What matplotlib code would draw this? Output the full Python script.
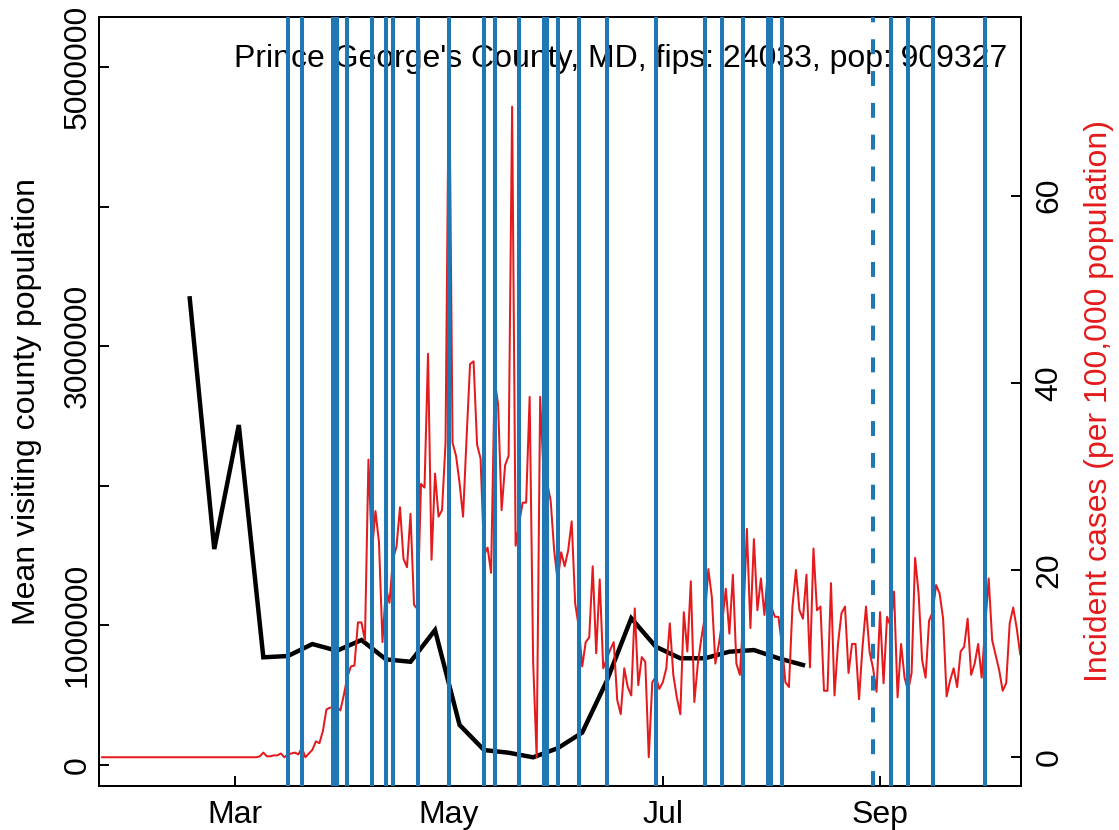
import matplotlib
matplotlib.use("Agg")
import matplotlib.pyplot as plt
import pandas as pd

plt.rcParams['font.family'] = ['Liberation Sans', 'DejaVu Sans']

# ---------------- data ----------------
title_text = "Prince George's County, MD, fips: 24033, pop: 909327"

# weekly mean visiting county population
visit_start = "2020-02-17"
visit_values = [3343000, 1546000, 2435000, 770000, 779000, 865000, 817000,
                894000, 755000, 738000, 965000, 285000, 105000, 86000,
                53000, 118000, 230000, 600000, 1050000, 846000, 763000,
                763000, 810000, 822000, 763000, 715000]

# daily incident cases per 100,000 population
case_start = "2020-01-23"
case_values = [
    0, 0, 0, 0, 0, 0, 0, 0, 0, 0, 0, 0, 0, 0, 0, 0, 0, 0, 0, 0,
    0, 0, 0, 0, 0, 0, 0, 0, 0, 0, 0, 0, 0, 0, 0, 0, 0, 0, 0, 0,
    0, 0, 0, 0, 0,
    0.1, 0.5, 0.1, 0.1, 0.2, 0.2, 0.4, 0.0, 0.3, 0.4, 0.5, 0.3, 1.0, 0.0,
    0.4, 0.8, 1.7, 1.5, 2.8, 5.1, 5.3, 5.3, 5.4, 5.0, 6.7, 8.6, 9.7, 9.8,
    14.4, 14.4, 12.5, 31.8, 22.0, 26.3, 23.0, 12.3, 18.1, 16.5, 21.2, 22.5,
    26.7, 21.2, 20.3, 26.0, 16.3, 15.8, 29.2, 28.8, 43.1, 21.1, 30.3, 25.7,
    26.4, 33.6, 76.0, 33.6, 32.2, 29.3, 25.7, 34.1, 42.0, 42.3, 33.4, 31.9,
    21.6, 22.4, 19.7, 40.3, 37.7, 26.4, 31.2, 32.2, 69.5, 22.6, 25.0, 27.2,
    27.2, 38.5, 10.2, 0.0, 38.5, 30.0, 29.3, 27.4, 22.1, 18.8, 21.9, 20.4,
    22.1, 25.2, 16.4, 14.0, 9.7, 12.3, 12.8, 20.4, 11.1, 19.0, 9.5, 10.5,
    11.5, 12.3, 6.1, 4.6, 9.5, 7.5, 6.6, 15.9, 7.7, 10.7, 10.2, 0.0, 8.0,
    8.6, 7.3, 8.0, 9.5, 14.3, 8.8, 6.4, 4.6, 15.5, 11.3, 18.8, 5.9, 10.0,
    12.7, 15.0, 20.1, 17.1, 10.0, 12.1, 14.6, 18.0, 13.2, 19.5, 10.0, 8.8,
    15.0, 24.4, 13.8, 23.3, 15.7, 19.1, 15.2, 20.0, 16.0, 15.0, 15.0, 12.0,
    8.0, 7.5, 16.1, 20.0, 15.7, 14.8, 19.5, 9.6, 22.3, 15.7, 16.1, 7.1,
    7.1, 18.6, 6.6, 12.1, 15.4, 16.1, 9.0, 12.1, 12.1, 6.2, 11.8, 16.1,
    11.3, 9.5, 7.0, 15.5, 7.9, 15.0, 14.0, 17.7, 6.4, 12.1, 8.5, 7.1, 9.0,
    21.3, 17.5, 10.4, 8.5, 14.6, 15.5, 18.4, 17.5, 14.8, 6.5, 8.2, 9.5,
    7.5, 11.3, 11.8, 14.8, 8.8, 10.0, 12.1, 8.5, 14.0, 19.1, 12.5, 10.9,
    9.3, 7.1, 7.9, 14.3, 16.0, 13.8, 11.0,
]

# policy event dates (solid) and one dashed event
event_dates = ["2020-03-16", "2020-03-20", "2020-03-29", "2020-03-30",
               "2020-04-02", "2020-04-09", "2020-04-13", "2020-04-15",
               "2020-04-22", "2020-05-01", "2020-05-11", "2020-05-14",
               "2020-05-21", "2020-05-28", "2020-05-29", "2020-06-01",
               "2020-06-07", "2020-06-15", "2020-06-29", "2020-07-13",
               "2020-07-18", "2020-07-24", "2020-07-31", "2020-08-01",
               "2020-08-04", "2020-09-04", "2020-09-09", "2020-09-16",
               "2020-10-01"]
dashed_dates = ["2020-08-30"]

month_ticks = ["2020-03-01", "2020-05-01", "2020-07-01", "2020-09-01"]
month_labels = ["Mar", "May", "Jul", "Sep"]
left_ticks = [0, 1000000, 2000000, 3000000, 4000000, 5000000]
left_labels = ["0", "1000000", "", "3000000", "", "5000000"]
right_ticks = [0, 20, 40, 60]
right_labels = ["0", "20", "40", "60"]

# ---------------- plot ----------------
FS = 23.0
BLUE = "#1F77B4"
RED = "#E41A1C"

fig = plt.figure(figsize=(11.19, 8.30), dpi=100)
ax = fig.add_axes([99.3 / 1119, 1 - 785.7 / 830, (1020.7 - 99.3) / 1119,
                   (785.7 - 17) / 830])

visit_dates = pd.date_range(visit_start, periods=len(visit_values), freq="7D")
case_dates = pd.date_range(case_start, periods=len(case_values), freq="D")

ax.plot(visit_dates, visit_values, color="black", lw=3.2, zorder=2,
        solid_joinstyle="miter")
ax.set_ylim(-150500, 5360000)
ax.set_yticks(left_ticks)
ax.set_yticklabels(left_labels, rotation=90, va="center")
ax.set_ylabel("Mean visiting county population", fontsize=FS, labelpad=15)

mar1 = pd.Timestamp("2020-03-01")
ax.set_xlim(mar1 - pd.Timedelta(days=38.81), mar1 + pd.Timedelta(days=224.14))
ax.set_xticks(pd.to_datetime(month_ticks))
ax.set_xticklabels(month_labels)

ax.text(0.985, 0.946, title_text, transform=ax.transAxes, ha="right",
        va="center", fontsize=FS, zorder=1)

ax2 = ax.twinx()
ax2.plot(case_dates, case_values, color=RED, lw=1.45, zorder=2)
ax2.set_ylim(-3.04, 79.08)
ax2.set_yticks(right_ticks)
ax2.set_yticklabels(right_labels, rotation=90, va="center")
ax2.set_ylabel("Incident cases (per 100,000 population)", color=RED,
               fontsize=FS, labelpad=14)

for d in event_dates:
    ax2.axvline(pd.Timestamp(d), color=BLUE, lw=2.9, zorder=3)
for d in dashed_dates:
    ln = ax2.axvline(pd.Timestamp(d), color=BLUE, lw=2.9, zorder=3)
    ln.set_dashes((3.7, 4.2))

for a in (ax, ax2):
    for s in a.spines.values():
        s.set_linewidth(1.4)
    a.tick_params(direction="in", length=7.5, width=1.4, labelsize=FS)
ax.tick_params(axis="x", pad=10)
ax.tick_params(axis="y", pad=5)
ax2.tick_params(axis="y", pad=10)
ax2.set_xlim(ax.get_xlim())

fig.savefig("out.png", dpi=100)
